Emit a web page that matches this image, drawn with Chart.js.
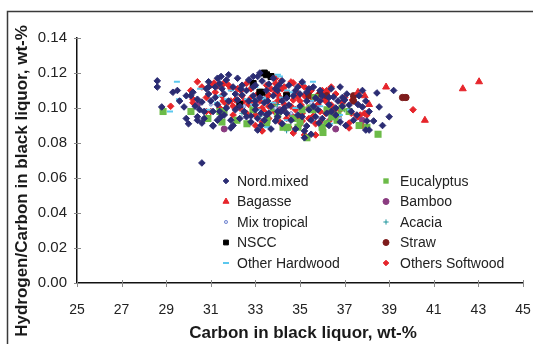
<!DOCTYPE html>
<html>
<head>
<meta charset="utf-8">
<script src="https://cdn.jsdelivr.net/npm/chart.js@4"></script>
<style>
  html, body { margin: 0; padding: 0; background: #fff; }
  #wrap { width: 533px; height: 344px; position: relative; }
</style>
</head>
<body>
<div id="wrap"><canvas id="hcChart"></canvas></div>
<script>
// H/C ratio vs carbon content of black liquor, by raw material
const xTicks = [25, 27, 29, 31, 33, 35, 37, 39, 41, 43, 45];
const yTicks = [0, 0.02, 0.04, 0.06, 0.08, 0.10, 0.12, 0.14];

const seriesNames = ['Nord.mixed', 'Bagasse', 'Mix tropical', 'NSCC', 'Other Hardwood',
                     'Eucalyptus', 'Bamboo', 'Acacia', 'Straw', 'Others Softwood'];

const nordMixed = [
  [28.6,0.1155],[28.6,0.112],[28.8,0.1006],[29.3,0.109],[29.5,0.110],[29.8,0.1006],[29.9,0.107],[30.1,0.107],
  [30.4,0.105],[30.6,0.1034],[30.4,0.093],[30.7,0.094],[31.1,0.090],[31.2,0.112],[31.4,0.114],[31.8,0.119],
  [31.3,0.117],[30.5,0.099],[30.7,0.098],[30.6,0.0686],[30.4,0.095],[29.9,0.094],[30.0,0.091],[30.6,0.0914],
  [29.6,0.104],[30.2,0.109],[30.9,0.108],[31.46,0.118],[32.0,0.112],[32.35,0.111],[33.0,0.113],[33.1,0.118],
  [33.3,0.1154],[31.2,0.106],[31.0,0.104],[31.1,0.098],[31.4,0.098],[31.7,0.100],[31.45,0.095],[31.9,0.093],
  [32.0,0.090],[31.9,0.0886],[31.1,0.0897],[32.5,0.098],[32.8,0.0954],[33.1,0.094],[33.25,0.097],[33.0,0.1017],
  [32.7,0.104],[33.4,0.103],[33.25,0.090],[33.1,0.0874],[32.2,0.1046],[32.4,0.1074],[33.8,0.117],[33.6,0.1137],
  [34.05,0.113],[35.1,0.1149],[34.8,0.110],[33.8,0.107],[34.4,0.1057],[35.7,0.1057],[35.9,0.104],[35.4,0.099],
  [35.8,0.099],[33.6,0.097],[34.15,0.098],[33.9,0.0926],[35.3,0.0897],[35.2,0.0869],[35.5,0.085],[35.85,0.0914],
  [34.5,0.1017],[34.9,0.096],[33.55,0.104],[36.8,0.112],[37.8,0.110],[38.45,0.1086],[37.0,0.1046],[37.65,0.107],
  [37.95,0.104],[38.1,0.098],[37.8,0.1006],[38.55,0.1006],[37.55,0.096],[38.0,0.0926],[38.3,0.0926],[37.95,0.0874],
  [38.1,0.0874],[37.05,0.090],[36.6,0.096],[37.3,0.098],[37.2,0.1017],[39.2,0.110],[39.0,0.095],[38.7,0.090],
  [35.6,0.112],[34.2,0.1155],[35.2,0.083],[36.3,0.090],[36.9,0.106],[36.5,0.1063],[32.1,0.108],[32.6,0.110],
  [32.9,0.107],[33.5,0.110],[33.7,0.101],[34.2,0.104],[34.7,0.107],[35.0,0.108],[35.3,0.104],[35.6,0.101],
  [36.0,0.107],[36.3,0.102],[36.6,0.100],[36.2,0.097],[34.0,0.095],[34.6,0.093],[33.4,0.093],[32.8,0.092],
  [32.3,0.094],[31.6,0.108],[31.8,0.104],[32.3,0.101],[33.9,0.111],[34.5,0.113],[32.7,0.116],[32.2,0.117],
  [30.9,0.115],[31.5,0.111],[30.8,0.111],[35.4,0.111],[36.4,0.111],[35.0,0.101],[34.3,0.100],[33.2,0.106],
  [32.9,0.112],[31.3,0.102],[30.3,0.101],[36.9,0.101],[37.4,0.093],[36.8,0.092],[35.5,0.093],[34.2,0.091],
  [33.7,0.088],[34.8,0.088],[36.0,0.094],[32.4,0.113],[32.9,0.118],[33.2,0.120],[31.7,0.116],[30.9,0.112],
  [34.9,0.112],[35.3,0.109],[35.9,0.110],[36.3,0.106],[36.7,0.104],[34.0,0.098],[33.0,0.099],[32.1,0.099],
  [31.6,0.096],[31.3,0.093],[32.6,0.095],[33.5,0.096],[34.4,0.097],[35.1,0.095],[35.7,0.095],[36.4,0.098],
  [37.1,0.108],[37.6,0.102],[34.0,0.110],[33.0,0.104]
];
const bagasse = [[38.86,0.112],[42.3,0.111],[43.03,0.115],[40.6,0.093],[38.1,0.102],[37.9,0.107],[37.6,0.109]];
const mixTropical = [[32.5,0.101],[33.9,0.100],[34.6,0.097],[35.5,0.103],[31.0,0.102],[36.8,0.094]];
const nscc = [[32.3,0.102],[32.9,0.114],[33.2,0.109],[33.4,0.120],[33.5,0.119],[33.7,0.118],[34.4,0.107],[33.3,0.109]];
const otherHardwood = [
  [29.48,0.115],[29.57,0.105],[29.17,0.098],[30.52,0.111],[31.41,0.107],[31.28,0.103],[31.73,0.105],[32.31,0.103],
  [32.62,0.105],[32.98,0.105],[33.34,0.106],[32.89,0.102],[32.4,0.101],[34.01,0.119],[34.1,0.118],[35.13,0.114],
  [35.58,0.115],[34.64,0.109],[34.42,0.110],[33.43,0.105],[32.98,0.101],[33.12,0.099],[33.34,0.097],[34.42,0.093],
  [36.79,0.096],[37.24,0.099],[36.35,0.091],[33.52,0.089],[33.8,0.103],[35.5,0.104],[34.8,0.100],[31.9,0.110],
  [33.0,0.112],[35.9,0.101],[30.9,0.099],[34.2,0.106]
];
const eucalyptus = [
  [28.86,0.098],[30.11,0.098],[30.87,0.094],[31.41,0.098],[31.59,0.098],[31.5,0.092],[32.17,0.093],[32.62,0.091],
  [32.89,0.099],[33.52,0.093],[33.5,0.091],[34.24,0.089],[34.46,0.089],[34.91,0.089],[35.09,0.099],[35.31,0.083],
  [35.45,0.100],[35.58,0.099],[35.67,0.106],[35.99,0.089],[36.03,0.086],[36.21,0.099],[36.43,0.095],[36.66,0.093],
  [36.7,0.096],[36.88,0.100],[37.2,0.098],[37.65,0.090],[38.0,0.089],[38.5,0.085],[34.0,0.096],[35.0,0.092],
  [33.8,0.100],[34.7,0.094],[36.2,0.091]
];
const bamboo = [[31.6,0.088],[36.6,0.088],[34.1,0.099],[30.4,0.102],[37.8,0.093]];
const acacia = [[34.4,0.087],[33.2,0.095],[35.1,0.098],[36.3,0.093],[32.4,0.097],[34.0,0.102],[37.0,0.099],[31.7,0.101]];
const straw = [[39.6,0.106],[39.75,0.106],[35.4,0.107],[35.9,0.108],[37.4,0.107],[37.4,0.104],[36.2,0.107]];
const othersSoftwood = [
  [31.55,0.1137],[31.0,0.113],[31.15,0.1143],[31.3,0.1126],[31.6,0.1143],[32.2,0.111],[32.1,0.1046],[31.9,0.104],
  [31.7,0.1023],[31.55,0.104],[32.5,0.104],[32.8,0.1057],[33.0,0.100],[32.5,0.098],[33.3,0.0869],[31.0,0.098],
  [31.4,0.100],[32.35,0.110],[33.1,0.108],[33.5,0.113],[34.7,0.1143],[34.15,0.1154],[34.2,0.111],[34.4,0.1086],
  [33.9,0.109],[33.6,0.1074],[34.0,0.104],[34.7,0.1046],[34.9,0.1063],[35.3,0.1063],[35.05,0.1017],[34.8,0.099],
  [34.6,0.096],[34.95,0.094],[35.1,0.0926],[34.95,0.090],[34.7,0.0857],[35.7,0.0846],[35.6,0.0954],[35.9,0.098],
  [35.8,0.1074],[36.0,0.110],[33.85,0.098],[33.6,0.094],[34.25,0.099],[36.2,0.110],[36.9,0.1034],[37.35,0.1046],
  [36.4,0.1017],[36.5,0.098],[36.45,0.0954],[36.3,0.0926],[37.2,0.0914],[37.2,0.0886],[37.9,0.097],[38.0,0.096],
  [37.55,0.0954],[36.15,0.104],[36.15,0.097],[30.4,0.115],[29.2,0.101],[30.1,0.110],[30.2,0.105],[30.2,0.103],
  [31.5,0.107],[31.9,0.111],[32.8,0.111],[33.3,0.092],[30.8,0.106],[32.3,0.100],[32.6,0.097],[32.0,0.096],
  [30.8,0.098],[40.07,0.099],[33.3,0.087],[35.2,0.0846],[37.8,0.090],[37.7,0.096],[37.6,0.095],[34.6,0.1149],
  [33.9,0.117],[33.9,0.114],[35.5,0.110],[36.2,0.109],[36.1,0.105],[36.9,0.103],[37.3,0.097],[33.2,0.104],
  [33.6,0.101],[34.3,0.102],[35.4,0.100],[35.1,0.097],[35.7,0.091],[36.0,0.088],[34.4,0.094],[33.0,0.096],
  [32.7,0.102],[33.7,0.111],[35.2,0.112],[34.0,0.108],[35.0,0.104],[36.6,0.108],[32.4,0.107],[33.4,0.098],
  [34.5,0.089],[36.8,0.099],[35.8,0.102],[32.9,0.103],[33.5,0.106],[34.1,0.106],[34.6,0.101],[35.2,0.107],
  [35.6,0.105],[33.8,0.102],[33.3,0.100],[32.0,0.101],[31.2,0.109],[30.6,0.112],[31.8,0.113],[32.6,0.114],
  [34.3,0.112],[35.0,0.113],[36.4,0.100],[36.7,0.095],[35.4,0.094],[34.1,0.092],[33.0,0.090],[35.9,0.092],
  [37.0,0.106],[36.4,0.112],[34.9,0.108]
];

const FONT = '"Liberation Sans", Arial, Helvetica, sans-serif';
const toXY = arr => arr.map(p => ({ x: p[0], y: p[1] }));

// marker look per series: style, colour, radius, legend radius
const markers = [
  { data: nordMixed,      style: 'rectRot',  color: '#2b2c73', r: 3.3, lr: 2.8, bw: 1 },
  { data: bagasse,        style: 'triangle', color: '#e6252b', r: 4,   lr: 3.5, bw: 1 },
  { data: mixTropical,    style: 'circle',   color: '#7d8fd3', r: 1.6, lr: 1.6, bw: 1, fill: '#d5dcf5' },
  { data: nscc,           style: 'rect',     color: '#000000', r: 4.2, lr: 3.4, bw: 1 },
  { data: otherHardwood,  style: 'line',     color: '#5bc8ee', r: 3,   lr: 3,   bw: 2 },
  { data: eucalyptus,     style: 'rect',     color: '#6cbb48', r: 5,   lr: 3.8, bw: 0 },
  { data: bamboo,         style: 'circle',   color: '#8a3b80', r: 3,   lr: 3,   bw: 1 },
  { data: acacia,         style: 'cross',    color: '#1c949b', r: 2.6, lr: 2.6, bw: 1 },
  { data: straw,          style: 'circle',   color: '#7e1c1c', r: 3.2, lr: 3,   bw: 1 },
  { data: othersSoftwood, style: 'rectRot',  color: '#e6252b', r: 3.3, lr: 2.8, bw: 1 }
];

const datasets = markers.map((m, i) => ({
  label: seriesNames[i],
  data: toXY(m.data),
  pointStyle: m.style,
  pointRadius: m.r,
  pointHoverRadius: m.r,
  pointBorderWidth: m.bw,
  pointBorderColor: m.color,
  pointBackgroundColor: m.fill || m.color,
  showLine: false
}));

// frame, crossing tick marks, axis titles and the in-plot legend
const decor = {
  id: 'decor',
  beforeDraw(chart) {
    const ctx = chart.ctx;
    ctx.save();
    ctx.strokeStyle = '#3a3a3a';
    ctx.lineWidth = 1.5;
    ctx.strokeRect(7.5, 11.5, 560, 400);
    ctx.restore();
  },
  afterDraw(chart) {
    const ctx = chart.ctx;
    const xs = chart.scales.x, ys = chart.scales.y;
    const ca = chart.chartArea;
    ctx.save();
    ctx.strokeStyle = '#8a8a8a';
    ctx.lineWidth = 1;
    xTicks.forEach(v => {
      const px = Math.round(xs.getPixelForValue(v)) + 0.5;
      ctx.beginPath(); ctx.moveTo(px, ca.bottom - 3); ctx.lineTo(px, ca.bottom + 4); ctx.stroke();
    });
    yTicks.forEach(v => {
      const py = Math.round(ys.getPixelForValue(v)) + 0.5;
      ctx.beginPath(); ctx.moveTo(ca.left - 3, py); ctx.lineTo(ca.left + 4, py); ctx.stroke();
    });

    // axis titles
    ctx.fillStyle = '#1a1a1a';
    ctx.font = 'bold 17px ' + FONT;
    ctx.textAlign = 'center';
    ctx.textBaseline = 'middle';
    ctx.fillText('Carbon in black liquor, wt-%', 303, 333);
    ctx.save();
    ctx.translate(22, 181);
    ctx.rotate(-Math.PI / 2);
    ctx.fillText('Hydrogen/Carbon in black liquor, wt-%', 0, 0);
    ctx.restore();

    // legend, two columns of five
    ctx.font = '14px ' + FONT;
    ctx.textAlign = 'left';
    ctx.fillStyle = '#222';
    markers.forEach((m, i) => {
      const col = Math.floor(i / 5), row = i % 5;
      const mx = col ? 386 : 226;
      const tx = col ? 400 : 237;
      const y = 181 + row * 20.5;
      ctx.save();
      ctx.fillStyle = m.fill || m.color;
      ctx.strokeStyle = m.color;
      ctx.lineWidth = m.bw;
      Chart.helpers.drawPoint(ctx, { pointStyle: m.style, radius: m.lr, rotation: 0, borderWidth: m.bw }, mx, y);
      ctx.restore();
      ctx.fillText(seriesNames[i], tx, y + 1);
    });
    ctx.restore();
  }
};

new Chart(document.getElementById('hcChart'), {
  type: 'scatter',
  data: { datasets },
  options: {
    responsive: true,
    maintainAspectRatio: false,
    animation: false,
    events: [],
    layout: { padding: { top: 38, right: 10, left: 0, bottom: 0 } },
    plugins: { legend: { display: false }, tooltip: { enabled: false } },
    scales: {
      x: {
        type: 'linear', min: 25, max: 45,
        afterFit: s => { s.height = 61; s.paddingLeft = 0; s.paddingRight = 0; },
        afterBuildTicks: s => { s.ticks = xTicks.map(v => ({ value: v })); },
        ticks: { padding: 19, color: '#222', font: { family: FONT, size: 14 } },
        grid: { display: false, drawTicks: false },
        border: { display: true, color: '#111', width: 1.5 }
      },
      y: {
        type: 'linear', min: 0, max: 0.14,
        afterFit: s => { s.width = 77; s.paddingTop = 0; s.paddingBottom = 0; },
        afterBuildTicks: s => { s.ticks = yTicks.map(v => ({ value: v })); },
        ticks: { padding: 10, color: '#222', font: { family: FONT, size: 15 },
                 callback: v => v.toFixed(2) },
        grid: { display: false, drawTicks: false },
        border: { display: true, color: '#111', width: 1.5 }
      }
    }
  },
  plugins: [decor]
});
</script>
</body>
</html>
